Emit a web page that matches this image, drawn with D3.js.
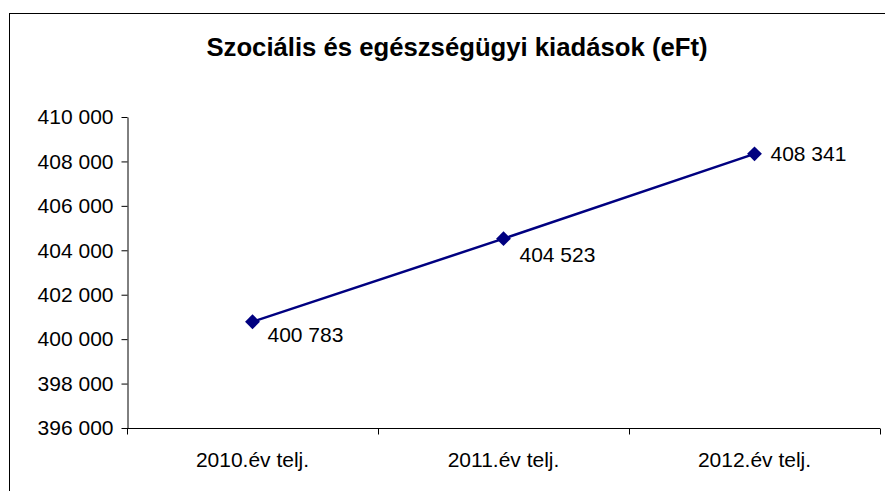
<!DOCTYPE html>
<html>
<head>
<meta charset="utf-8">
<script src="https://cdn.jsdelivr.net/npm/d3@7"></script>
<style>
  body { margin: 0; background: #fff; }
  svg { display: block; font-family: Arial, "Liberation Sans", sans-serif; }
  .axis path, .axis line { stroke: #000; }
  .axis text { font-size: 21px; fill: #000; }
</style>
</head>
<body>
<svg width="885" height="491"></svg>
<script>
const categories = ['2010.év telj.', '2011.év telj.', '2012.év telj.']
const values = [400783, 404523, 408341]
const valueLabels = ['400 783', '404 523', '408 341']
const yTicks = [396000, 398000, 400000, 402000, 404000, 406000, 408000, 410000]
const title = 'Szociális és egészségügyi kiadások (eFt)'

const svg = d3.select('svg'),
    margin = {top: 117, right: 5, bottom: 63, left: 127},
    width = 880 - margin.left,
    height = 428 - margin.top

// outer chart frame, cropped by the window on right/bottom
svg.append('rect')
    .attr('x', 9.5).attr('y', 13.5)
    .attr('width', 1000).attr('height', 1000)
    .attr('fill', 'none').attr('stroke', '#000').attr('stroke-width', 1)

svg.append('text')
    .attr('x', 457).attr('y', 56)
    .attr('text-anchor', 'middle')
    .style('font-size', '25.7px').style('font-weight', 'bold')
    .text(title)

const x = d3.scaleBand().domain(categories).range([0, width]),
    y = d3.scaleLinear().domain([396000, 410000]).range([height, 0]),
    fmt = d => d3.format(',')(d).replace(/,/g, ' ')

const chart = svg.append('g')
    .attr('transform', 'translate(' + margin.left + ',' + margin.top + ')')

// y axis
chart.append('g')
    .attr('class', 'axis axis--y')
    .attr('transform', 'translate(0.5,0)')
    .call(d3.axisLeft(y).tickValues(yTicks).tickFormat(fmt).tickSize(6).tickSizeOuter(0).tickPadding(8))

// x axis: ticks at band boundaries
const xAxis = chart.append('g')
    .attr('class', 'axis axis--x')
    .attr('transform', 'translate(0,' + (height + 0.5) + ')')
xAxis.append('line').attr('x1', 0).attr('x2', width).attr('stroke', '#000')
xAxis.selectAll('.tick-b')
  .data(categories.concat([null]))
  .enter().append('line')
    .attr('x1', (d, i) => Math.round(i * x.step()) + 0.5)
    .attr('x2', (d, i) => Math.round(i * x.step()) + 0.5)
    .attr('y1', 0).attr('y2', 6)
    .attr('stroke', '#000')
xAxis.selectAll('.lab')
  .data(categories)
  .enter().append('text')
    .attr('x', d => x(d) + x.bandwidth() / 2)
    .attr('y', 38)
    .attr('text-anchor', 'middle')
    .text(d => d)

const line = d3.line()
    .x((d, i) => x(categories[i]) + x.bandwidth() / 2)
    .y(d => y(d))

chart.append('path')
    .datum(values)
    .attr('d', line)
    .attr('fill', 'none')
    .attr('stroke', '#000080')
    .attr('stroke-width', 2.5)

chart.selectAll('.pt')
  .data(values)
  .enter().append('path')
    .attr('d', d3.symbol().type(d3.symbolDiamond2).size(140))
    .attr('transform', (d, i) => 'translate(' + (x(categories[i]) + x.bandwidth() / 2) + ',' + y(d) + ')')
    .attr('fill', '#000080')

const labOffsets = [[15, 20], [16, 23], [16, 7]]
chart.selectAll('.vl')
  .data(values)
  .enter().append('text')
    .attr('x', (d, i) => x(categories[i]) + x.bandwidth() / 2 + labOffsets[i][0])
    .attr('y', (d, i) => y(d) + labOffsets[i][1])
    .style('font-size', '21px')
    .text((d, i) => valueLabels[i])
</script>
</body>
</html>
